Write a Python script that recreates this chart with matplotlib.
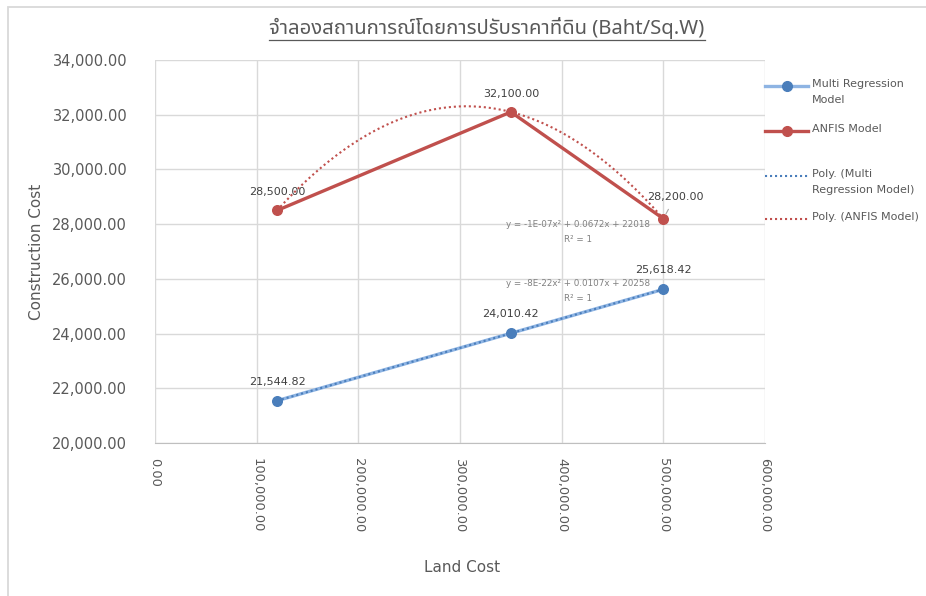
import numpy as np
import matplotlib
matplotlib.use("Agg")
import matplotlib.pyplot as plt
from matplotlib import font_manager
from matplotlib.ft2font import FT2Font
from matplotlib.lines import Line2D
from matplotlib.patches import Rectangle

# ---- data -------------------------------------------------------------
land_cost = [120000, 350000, 500000]
multi_regression = [21544.82, 24010.42, 25618.42]
anfis = [28500.00, 32100.00, 28200.00]

series_names = ["Multi Regression Model", "ANFIS Model"]
trend_names = ["Poly. (Multi\nRegression Model)", "Poly. (ANFIS Model)"]
trend_equations = ["y = -8E-22x² + 0.0107x + 20258", "y = -1E-07x² + 0.0672x + 22018"]
trend_r2 = ["R² = 1", "R² = 1"]

title_text = "จำลองสถานการณ์โดยการปรับราคาที่ดิน (Baht/Sq.W)"
x_title = "Land Cost"
y_title = "Construction Cost"
x_ticks = [0, 100000, 200000, 300000, 400000, 500000, 600000]
y_ticks = [20000, 22000, 24000, 26000, 28000, 30000, 32000, 34000]

# ---- style ------------------------------------------------------------
W, H = 926, 596
BLUE_LINE = "#8EB4E3"
BLUE = "#4A7EBB"
RED = "#C0504D"
TICK_C = "#595959"
LABEL_C = "#404040"
GRID_C = "#D9D9D9"


def thai_family():
    preferred = ["Noto Sans Thai", "Noto Sans Thai UI", "Tahoma", "Leelawadee UI",
                 "Loma", "Garuda", "Sarabun", "Waree", "Kinnari", "Norasi", "Umpush"]
    names = {f.name for f in font_manager.fontManager.ttflist}
    for p in preferred:
        if p in names:
            return p
    for f in font_manager.fontManager.ttflist:
        try:
            if 0x0E08 in FT2Font(f.fname).get_charmap():
                return f.name
        except Exception:
            continue
    return None


plt.rcParams["font.family"] = ["DejaVu Sans"]
thai = thai_family()
title_family = [thai, "DejaVu Sans"] if thai else ["DejaVu Sans"]

fig = plt.figure(figsize=(W / 100, H / 100), dpi=100)
fig.patch.set_facecolor("white")


def fx(px):
    return px / W


def fy(py):
    return 1 - py / H


# outer chart frame
fig.patches.append(Rectangle((fx(8), -0.1), 1.2, fy(7) + 0.1, transform=fig.transFigure,
                             fill=False, edgecolor=GRID_C, lw=1.3))

ax = fig.add_axes([fx(155), fy(443), fx(765) - fx(155), fy(60) - fy(443)])
ax.set_xlim(0, 600000)
ax.set_ylim(20000, 34000)
ax.set_xticks(x_ticks)
ax.set_yticks(y_ticks)
ax.set_xticklabels([f"{v:,.2f}" for v in x_ticks], rotation=-90, fontsize=9.4, color=TICK_C)
ax.set_yticklabels([f"{v:,.2f}" for v in y_ticks], fontsize=10.5, color=TICK_C)
ax.tick_params(length=0)
ax.tick_params(axis="y", pad=20)
ax.tick_params(axis="x", pad=11)
ax.grid(True, color=GRID_C, lw=1.0)
ax.set_axisbelow(True)
for s in ["top", "right", "left"]:
    ax.spines[s].set_visible(False)
ax.spines["bottom"].set_color("#BFBFBF")

ax.set_ylabel(y_title, fontsize=11, color=TICK_C, va="center")
ax.set_xlabel(x_title, fontsize=11, color=TICK_C, va="center")
ax.yaxis.set_label_coords(-0.195, 0.5)
ax.xaxis.set_label_coords(0.503, -0.326)

# series lines
ax.plot(land_cost, multi_regression, color=BLUE_LINE, lw=2.4, zorder=3)
ax.plot(land_cost, anfis, color=RED, lw=2.4, zorder=3)

# quadratic trendlines over the data range
xs = np.linspace(min(land_cost), max(land_cost), 300)
for ys, col in [(multi_regression, BLUE), (anfis, RED)]:
    coef = np.polyfit(land_cost, ys, 2)
    ax.plot(xs, np.polyval(coef, xs), color=col, lw=1.5, ls=(0, (1, 1.4)), zorder=4)

ax.scatter(land_cost, multi_regression, s=48, color=BLUE, zorder=5)
ax.scatter(land_cost, anfis, s=48, color=RED, zorder=5)

# data labels
for xv, yv in zip(land_cost, multi_regression):
    ax.annotate(f"{yv:,.2f}", (xv, yv), xytext=(0, 19), textcoords="offset pixels",
                ha="center", va="center", fontsize=8, color=LABEL_C, zorder=6)
for i, (xv, yv) in enumerate(zip(land_cost, anfis)):
    if i == len(land_cost) - 1:
        ax.annotate(f"{yv:,.2f}", (xv, yv), xytext=(12, 22), textcoords="offset pixels",
                    ha="center", va="center", fontsize=8, color=LABEL_C, zorder=6,
                    arrowprops=dict(arrowstyle="-", color="#A6A6A6", lw=0.8,
                                    shrinkA=4, shrinkB=4))
    else:
        ax.annotate(f"{yv:,.2f}", (xv, yv), xytext=(0, 18), textcoords="offset pixels",
                    ha="center", va="center", fontsize=8, color=LABEL_C, zorder=6)

# trendline equations near the last point of each series
for ys, eq, r2, dy in [(multi_regression, trend_equations[0], trend_r2[0], 6),
                       (anfis, trend_equations[1], trend_r2[1], -6)]:
    ax.annotate(eq, (land_cost[-1], ys[-1]), xytext=(-85, dy), textcoords="offset pixels",
                ha="center", va="center", fontsize=6.3, color="#808080", zorder=6)
    ax.annotate(r2, (land_cost[-1], ys[-1]), xytext=(-85, dy - 15), textcoords="offset pixels",
                ha="center", va="center", fontsize=6.3, color="#808080", zorder=6)

# legend
legend_rows = [
    (series_names[0].replace("Regression ", "Regression\n"), 86, dict(color=BLUE_LINE, lw=2.4), BLUE),
    (series_names[1], 131, dict(color=RED, lw=2.4), RED),
    (trend_names[0], 176, dict(color=BLUE, lw=1.5, ls=(0, (1, 1.4))), None),
    (trend_names[1], 219, dict(color=RED, lw=1.5, ls=(0, (1, 1.4))), None),
]
for text, py, style, mcol in legend_rows:
    fig.add_artist(Line2D([fx(765), fx(808)], [fy(py), fy(py)], transform=fig.transFigure, **style))
    if mcol:
        fig.add_artist(Line2D([fx(786.5)], [fy(py)], transform=fig.transFigure, marker="o",
                              markersize=7, color=mcol, lw=0))
    fig.text(fx(812), fy(py - 7), text, ha="left", va="top", fontsize=8, color=TICK_C,
             linespacing=1.75, transform=fig.transFigure)

# title with underline
title = fig.text(fx(487), fy(28), title_text, ha="center", va="center",
                 fontsize=14.6, color=TICK_C, family=title_family)
fig.canvas.draw()
bb = title.get_window_extent()
fig.add_artist(Line2D([bb.x0 / W, bb.x1 / W], [(bb.y0 - 1) / H, (bb.y0 - 1) / H],
                      transform=fig.transFigure, color=TICK_C, lw=0.9))

fig.savefig("out.png", dpi=100, facecolor="white")
